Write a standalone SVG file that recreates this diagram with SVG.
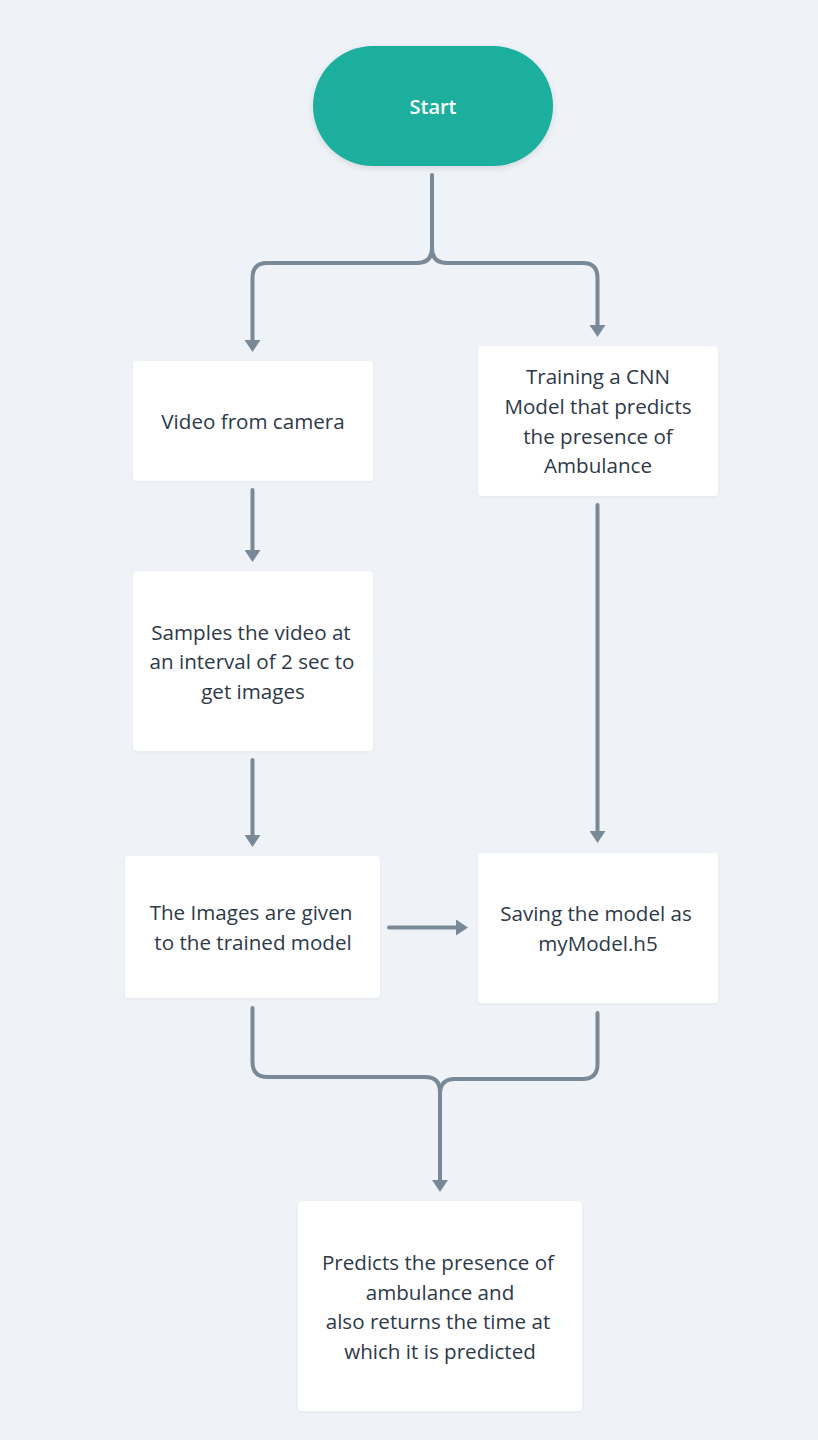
<svg xmlns="http://www.w3.org/2000/svg" width="818" height="1440" viewBox="0 0 818 1440">
  <defs>
    <style>
      .bg { fill: #eff3f7; }
      .box { fill: #ffffff; }
      .lbl { font-family: "Open Sans", "Liberation Sans", sans-serif; font-size: 20.6px; font-weight: 500; fill: #2d3948; text-anchor: middle; }
      .start-lbl { font-family: "Open Sans", "Liberation Sans", sans-serif; font-size: 20px; font-weight: 600; fill: #ffffff; text-anchor: middle; }
      .conn { fill: none; stroke: #7a8998; stroke-width: 4; stroke-linecap: round; stroke-linejoin: round; }
    </style>
    <marker id="arrow" markerUnits="userSpaceOnUse" viewBox="0 0 12 16" refX="2" refY="8" markerWidth="12" markerHeight="16" orient="auto">
      <path d="M0,0 L12,8 L0,16 Z" fill="#7a8998"/>
    </marker>
    <filter id="shadow" x="-20%" y="-20%" width="140%" height="150%">
      <feDropShadow dx="0" dy="2" stdDeviation="3" flood-color="#000000" flood-opacity="0.12"/>
    </filter>
    <filter id="shadow2" x="-10%" y="-10%" width="120%" height="130%">
      <feDropShadow dx="0" dy="1" stdDeviation="1.5" flood-color="#000000" flood-opacity="0.05"/>
    </filter>
  </defs>

  <rect class="bg" x="0" y="0" width="818" height="1440"/>

  <g id="connectors">
    <path class="conn" d="M432,175 V248 Q432,263 417,263 H267 Q252.5,263 252.5,278 V342" marker-end="url(#arrow)"/>
    <path class="conn" d="M432,248 Q432,263 447,263 H583 Q597.5,263 597.5,278 V327" marker-end="url(#arrow)"/>
    <path class="conn" d="M252.5,490 V552" marker-end="url(#arrow)"/>
    <path class="conn" d="M252.5,760 V837" marker-end="url(#arrow)"/>
    <path class="conn" d="M597.5,505 V833" marker-end="url(#arrow)"/>
    <path class="conn" d="M389,927.5 H458" marker-end="url(#arrow)"/>
    <path class="conn" d="M252.5,1008 V1062 Q252.5,1077 267.5,1077 H425 Q440,1077 440,1092 V1182" marker-end="url(#arrow)"/>
    <path class="conn" d="M597.5,1013 V1064 Q597.5,1079 582.5,1079 H455 Q440,1079 440,1094"/>
  </g>

  <g id="start">
    <rect x="313" y="46" width="240" height="120" rx="60" ry="60" fill="#1aaf9e" filter="url(#shadow)"/>
    <text class="start-lbl" x="433" y="114">Start</text>
  </g>

  <g id="video">
    <rect class="box" x="133" y="361" width="240" height="120" rx="4" filter="url(#shadow2)"/>
    <text class="lbl" x="253" y="429">Video from camera</text>
  </g>

  <g id="training">
    <rect class="box" x="478" y="346" width="240" height="150" rx="4" filter="url(#shadow2)"/>
    <text class="lbl" x="598" y="384">Training a CNN</text>
    <text class="lbl" x="598" y="414">Model that predicts</text>
    <text class="lbl" x="598" y="444">the presence of</text>
    <text class="lbl" x="598" y="473">Ambulance</text>
  </g>

  <g id="samples">
    <rect class="box" x="133" y="571" width="240" height="180" rx="4" filter="url(#shadow2)"/>
    <text class="lbl" x="251" y="640">Samples the video at</text>
    <text class="lbl" x="252" y="669">an interval of 2 sec to</text>
    <text class="lbl" x="253" y="699">get images</text>
  </g>

  <g id="images">
    <rect class="box" x="125" y="856" width="255" height="142" rx="4" filter="url(#shadow2)"/>
    <text class="lbl" x="251" y="920">The Images are given</text>
    <text class="lbl" x="253" y="950">to the trained model</text>
  </g>

  <g id="saving">
    <rect class="box" x="478" y="853" width="240" height="150" rx="4" filter="url(#shadow2)"/>
    <text class="lbl" x="596" y="921">Saving the model as</text>
    <text class="lbl" x="598" y="951">myModel.h5</text>
  </g>

  <g id="predicts">
    <rect class="box" x="298" y="1201" width="284" height="210" rx="4" filter="url(#shadow2)"/>
    <text class="lbl" x="438" y="1270">Predicts the presence of</text>
    <text class="lbl" x="440" y="1300">ambulance and</text>
    <text class="lbl" x="438" y="1329">also returns the time at</text>
    <text class="lbl" x="440" y="1359">which it is predicted</text>
  </g>
</svg>
